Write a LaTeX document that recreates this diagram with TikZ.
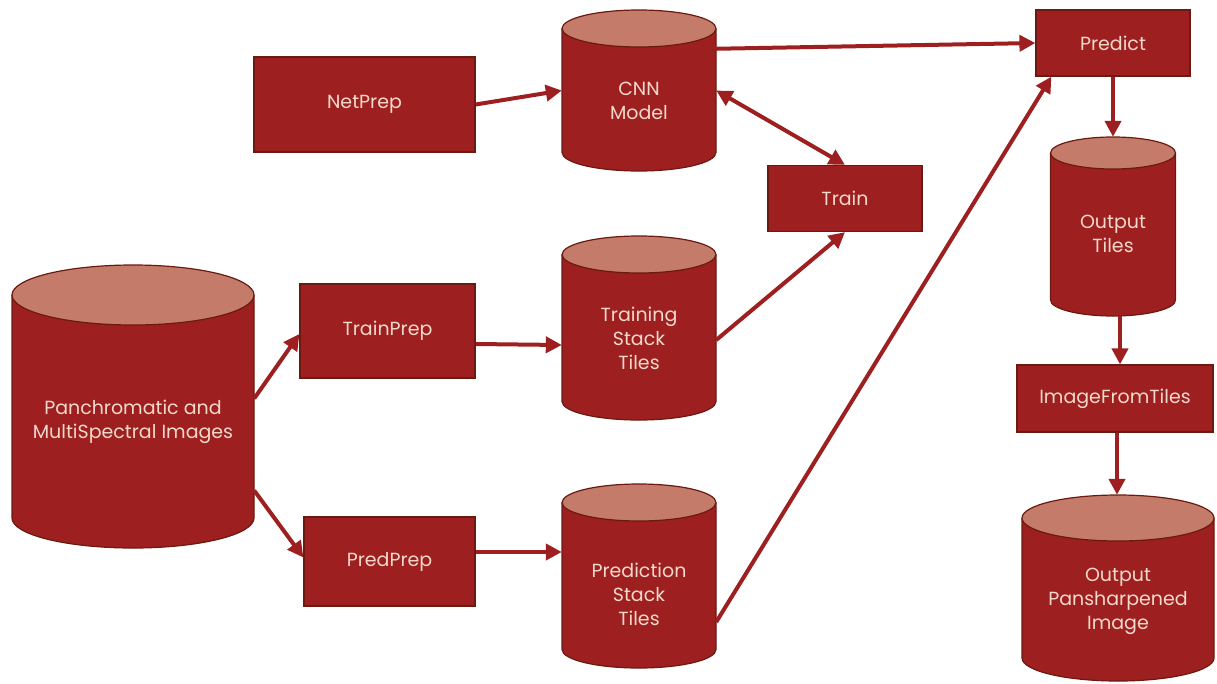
\documentclass[tikz,border=0pt]{standalone}
\usepackage{fontspec}
\setmainfont{Poppins}
\usetikzlibrary{arrows.meta,calc}
\definecolor{redfill}{HTML}{9E1F1F}
\definecolor{capfill}{HTML}{C47B69}
\definecolor{edge}{HTML}{6A1A10}
\definecolor{txt}{HTML}{F3D9CC}
\tikzset{
  box/.style={draw=edge, line width=1.2pt, fill=redfill, text=txt, font=\fontsize{19}{24}\selectfont, align=center, inner sep=0pt},
  cyllabel/.style={text=txt, font=\fontsize{19}{24}\selectfont, align=center},
  arr/.style={draw=redfill, line width=4pt, -{Triangle[length=16pt,width=16pt]}},
  darr/.style={draw=redfill, line width=4pt, {Triangle[length=16pt,width=16pt]}-{Triangle[length=16pt,width=16pt]}},
}
% name, cx, ytop, ybot, rx, ry, text y, text
\newcommand\mycyl[8]{%
  \fill[redfill] (#2-#5,#3+#6) -- (#2-#5,#4-#6) arc[start angle=180,end angle=0,x radius=#5,y radius=#6] -- (#2+#5,#3+#6) arc[start angle=0,end angle=180,x radius=#5,y radius=#6] -- cycle;
  \draw[edge,line width=1.2pt] (#2-#5,#3+#6) -- (#2-#5,#4-#6) arc[start angle=180,end angle=0,x radius=#5,y radius=#6] -- (#2+#5,#3+#6);
  \draw[edge,line width=1.2pt,fill=capfill] (#2,#3+#6) ellipse[x radius=#5,y radius=#6];
  \node[inner sep=0pt, minimum width=2*#5, minimum height=#4-#3] (#1) at (#2,{(#3+#4)/2}) {};
  \node[cyllabel] (#1-t) at (#2,#7) {#8};
}
\begin{document}
\begin{tikzpicture}[x=1pt,y=-1pt]
\useasboundingbox (0,0) rectangle (1217,683);
% cylinders
\mycyl{img}{133}{265}{548}{121}{30}{422}{Panchromatic and\\MultiSpectral Images}
\mycyl{cnn}{639}{10}{171}{77}{18.5}{101}{CNN\\Model}
\mycyl{ts}{639}{236}{420}{77}{18.5}{338}{Training\\Stack\\Tiles}
\mycyl{ps}{639}{484}{668}{77}{18.5}{594}{Prediction\\Stack\\Tiles}
\mycyl{ot}{1113}{137}{316}{62.5}{16}{234}{Output\\Tiles}
\mycyl{op}{1118}{495}{681}{96}{23}{601}{Output\\Pansharpened\\Image}
% boxes
\node[box, minimum width=221pt, minimum height=95pt] (netprep) at (364.5,104.5) {NetPrep};
\node[box, minimum width=175pt, minimum height=94pt] (trainprep) at (387.5,331) {TrainPrep};
\node[box, minimum width=171pt, minimum height=89pt] (predprep) at (389.5,561.5) {PredPrep};
\node[box, minimum width=154pt, minimum height=66pt] (train) at (845,198.5) {Train};
\node[box, minimum width=154pt, minimum height=66pt] (predict) at (1113,43) {Predict};
\node[box, minimum width=196pt, minimum height=67pt] (ift) at (1115,398.5) {ImageFromTiles};
% connectors
\draw[arr] (netprep.east) -- (cnn.west);
\draw[arr] ($(cnn.center)+(-19,-40)$) -- (predict.west);
\draw[darr] (cnn.east) -- (train.north);
\draw[arr] ($(ts.east)+(0,12)$) -- (train.south);
\draw[arr] ($(ps.east)+(0,46)$) -- ($(predict.south west)+(16,0)$);
\draw[arr] ($(img.east)+(0,-8)$) -- ($(trainprep.west)+(0,3)$);
\draw[arr] ($(img.east)+(0,84)$) -- ($(predprep.west)+(0,-4)$);
\draw[arr] ($(trainprep.east)+(0,13)$) -- ($(ts.west)+(0,17)$);
\draw[arr] ($(predprep.east)+(0,-9.5)$) -- ($(ps.west)+(0,-24)$);
\draw[arr] (predict.south) -- (ot.north);
\draw[arr] ($(ot.south)+(7,0)$) -- ($(ift.north)+(5,0)$);
\draw[arr] ($(ift.south)+(2,0)$) -- ($(op.north)+(-1,0)$);
\end{tikzpicture}
\end{document}
